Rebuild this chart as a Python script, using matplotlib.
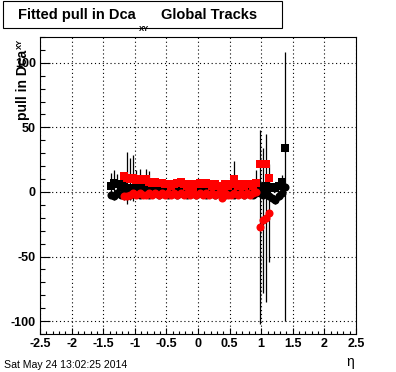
import matplotlib
matplotlib.use('Agg')
import matplotlib.pyplot as plt
from matplotlib.ticker import MultipleLocator

# eta bin centres and fitted pulls
eta_black = [-1.375, -1.325, -1.275, -1.225, -1.175, -1.125, -1.075, -1.025,
             -0.975, -0.925, -0.875, -0.825, -0.775, -0.725, -0.675, -0.625,
             -0.575, -0.525, -0.475, -0.425, -0.375, -0.325, -0.275, -0.225,
             -0.175, -0.125, -0.075, -0.025, 0.025, 0.075, 0.125, 0.175,
             0.225, 0.275, 0.325, 0.375, 0.425, 0.475, 0.525, 0.575,
             0.625, 0.675, 0.725, 0.775, 0.825, 0.875, 0.925, 0.975,
             1.025, 1.075, 1.125, 1.175, 1.225, 1.275, 1.325, 1.375]
black_sq = [5, 7, 6, 4, 8, 3, 3, 2, 3, 2, 3, 3, 2, 3, 2, 3, 3, 2, 3, 2,
            3, 3, 2, 3, 2, 3, 2, 3, 3, 2, 3, 2, 3, 3, 2, 3, 2, 3, 3, 2,
            3, 2, 3, 3, 2, 3, 2, 2, 4, 5, 3, 4, 3, 5, 8, 34]
black_sq_err = [10, 10, 8, 3, 6, 2, 2, 2, 2, 2, 2, 2, 2, 2, 2, 2, 2, 2, 2, 2,
                2, 2, 2, 2, 2, 2, 2, 2, 2, 2, 2, 2, 2, 2, 2, 2, 2, 2, 2, 2,
                2, 2, 2, 2, 2, 2, 2, 3, 3, 3, 3, 3, 3, 3, 5, 3]
black_ci = [-2, -3, -1, -2, -1, -1, -2, -1, -1, -2, -1, -1, -2, -1, -1, -2,
            -1, -1, -2, -1, -1, -2, -1, -1, -2, -1, -1, -2, -1, -1, -2, -1,
            -1, -2, -1, -1, -2, -1, -1, -2, -1, -1, -2, -1, -1, -2, -1, -1,
            -2, -1, -3, -5, -6, -3, -1, 4]
black_ci_err = [3, 3, 3, 3, 2, 2, 2, 2, 2, 2, 2, 2, 2, 2, 2, 2, 2, 2, 2, 2,
                2, 2, 2, 2, 2, 2, 2, 2, 2, 2, 2, 2, 2, 2, 2, 2, 2, 2, 2, 2,
                2, 2, 2, 2, 2, 2, 2, 3, 3, 3, 3, 3, 3, 3, 4, 104]

eta_red = [-1.175, -1.125, -1.075, -1.025, -0.975, -0.925, -0.875, -0.825,
           -0.775, -0.725, -0.675, -0.625, -0.575, -0.525, -0.475, -0.425,
           -0.375, -0.325, -0.275, -0.225, -0.175, -0.125, -0.075, -0.025,
           0.025, 0.075, 0.125, 0.175, 0.225, 0.275, 0.325, 0.375,
           0.425, 0.475, 0.525, 0.575, 0.625, 0.675, 0.725, 0.775,
           0.825, 0.875, 0.925, 0.975, 1.025, 1.075, 1.125]
red_sq = [12, 11, 10, 11, 9, 10, 9, 10, 8, 7, 8, 7, 7, 6, 6, 5, 6, 7, 8, 6,
          5, 6, 4, 6, 7, 6, 7, 6, 5, 6, 5, 4, 6, 5, 6, 10, 5, 6, 5, 6,
          6, 5, 7, 22, 22, 22, 11]
red_sq_err = [3, 20, 16, 18, 8, 8, 3, 8, 8, 3, 2, 2, 2, 2, 2, 2, 2, 2, 2, 2,
              2, 2, 2, 2, 2, 2, 2, 2, 2, 2, 2, 2, 2, 2, 2, 14, 2, 2, 2, 2,
              2, 2, 10, 3, 3, 3, 3]
red_ci = [-3, -3, -2, -1, -2, -1, -2, -2, -1, -2, -1, -2, -1, -2, -1, -2,
          -1, -2, -1, -2, -1, -2, -1, -2, -1, -2, -1, -2, -1, -2, -1, -5,
          -1, -2, -2, -1, -2, -1, -2, -1, -2, -1, 0, -27, -22, -20, -16]
red_ci_err = [3, 3, 2, 2, 2, 2, 2, 2, 2, 2, 2, 2, 2, 2, 2, 2, 2, 2, 2, 2,
              2, 2, 2, 2, 2, 2, 2, 2, 2, 2, 2, 2, 2, 2, 2, 2, 2, 2, 2, 2,
              2, 2, 2, 75, 56, 65, 38]

W, H = 396, 372


def fx(x):
    return x / W


def fy(y):
    return 1 - y / H


plt.rcParams['font.family'] = ['Liberation Sans', 'DejaVu Sans']

fig = plt.figure(figsize=(W / 100, H / 100), dpi=100)
ax = fig.add_axes([fx(40), fy(334), fx(356) - fx(40), fy(37) - fy(334)])

series = [
    (eta_black, black_sq, black_sq_err, 's', 'black', 6.0),
    (eta_black, black_ci, black_ci_err, 'o', 'black', 5.8),
    (eta_red, red_sq, red_sq_err, 's', 'red', 6.0),
    (eta_red, red_ci, red_ci_err, 'o', 'red', 5.8),
]
for x, y, e, m, c, ms in series:
    ax.errorbar(x, y, yerr=e, fmt=m, color=c, ecolor='black', ms=ms,
                mew=0, elinewidth=0.9, capsize=0)

ax.set_xlim(-2.5, 2.5)
ax.set_ylim(-110, 120)
ax.xaxis.set_major_locator(MultipleLocator(0.5))
ax.xaxis.set_minor_locator(MultipleLocator(0.1))
ax.yaxis.set_major_locator(MultipleLocator(50))
ax.yaxis.set_minor_locator(MultipleLocator(10))
ax.tick_params(which='both', direction='in', top=False, right=False,
               labelsize=9, width=0.8, pad=3)
ax.tick_params(axis='x', which='major', length=4.5)
ax.tick_params(axis='x', which='minor', length=2.3)
ax.tick_params(axis='y', which='major', length=7.2)
ax.tick_params(axis='y', which='minor', length=3.6)
ax.set_xticklabels([f'{v:g}' for v in ax.get_xticks()], fontweight='bold')
ax.set_yticklabels([f'{v:g}' for v in ax.get_yticks()], fontweight='bold')
ax.grid(True, which='major', color='black', linestyle=(0, (1, 2.5)),
        linewidth=0.8)
for s in ax.spines.values():
    s.set_linewidth(0.8)

# title box
fig.add_artist(plt.Rectangle((fx(3), fy(28)), fx(279), 27 / H,
                             transform=fig.transFigure, fill=False,
                             lw=0.8, color='black'))
fig.text(fx(18), fy(19), 'Fitted pull in Dca', fontsize=10.5,
         fontweight='bold', va='baseline')
fig.text(fx(139), fy(31), 'XY', fontsize=5.5, fontweight='bold',
         va='baseline')
fig.text(fx(161), fy(19), 'Global Tracks', fontsize=10.5,
         fontweight='bold', va='baseline')

# y axis title
fig.text(fx(23), fy(120), 'pull in Dca', fontsize=10, fontweight='bold',
         rotation=90, ha='center', va='bottom')
fig.text(fx(20), fy(39), 'XY', fontsize=5.5, fontweight='bold',
         rotation=90, ha='center', va='top')

# x axis title
fig.text(fx(350), fy(362), '\u03b7', fontsize=10, ha='center', va='center')

fig.text(fx(4), fy(368), 'Sat May 24 13:02:25 2014', fontsize=7.6,
         va='baseline')

fig.savefig('out.png', dpi=100)
